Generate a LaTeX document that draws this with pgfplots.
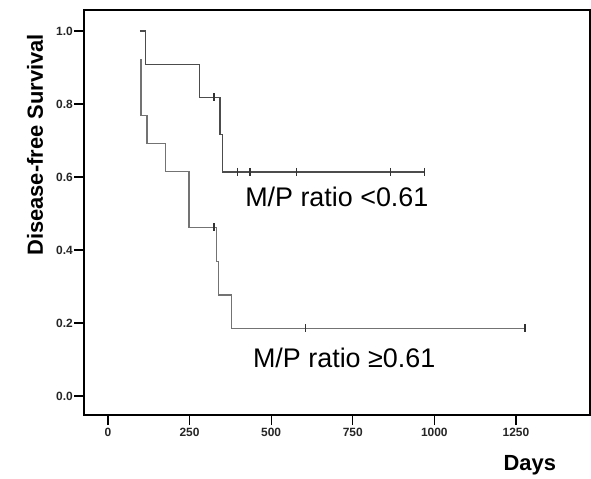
\documentclass[border=0pt]{standalone}
\usepackage{fontspec}
\setmainfont{Liberation Sans}
\usepackage{pgfplots}
\pgfplotsset{compat=1.18}

\begin{document}
\begin{tikzpicture}
\useasboundingbox (0,0) rectangle (591bp,479bp);
\begin{axis}[
    at={(84bp,64bp)}, anchor=south west,
    width=506bp, height=405bp, scale only axis,
    xmin=-73.5, xmax=1477,
    ymin=-0.052, ymax=1.0575,
    xtick={0,250,500,750,1000,1250},
    ytick={0,0.2,0.4,0.6,0.8,1.0},
    xtick pos=bottom, ytick pos=left,
    tick align=outside,
    major tick length=10bp,
    tick style={black, line width=1.2bp},
    axis line style={black, line width=1.6bp},
    /pgf/number format/assume math mode=true,
    /pgf/number format/set thousands separator={},
    yticklabel style={/pgf/number format/fixed, /pgf/number format/fixed zerofill, /pgf/number format/precision=1, inner xsep=1bp, font=\fontsize{12}{13}\selectfont\bfseries, text=black!85},
    xticklabel style={inner ysep=3bp, font=\fontsize{12}{13}\selectfont\bfseries, text=black!85},
    xlabel={Days},
    ylabel={Disease-free Survival},
    every axis x label/.style={at={(axis description cs:0.881,-0.123)}, anchor=center, font=\fontsize{22}{24}\selectfont\bfseries},
    every axis y label/.style={at={([xshift=-49bp]axis description cs:0,0.667)}, rotate=90, anchor=center, font=\fontsize{22}{24}\selectfont\bfseries},
    clip=false,
]
% M/P ratio < 0.61
\addplot[const plot mark left, black!70, line width=1.3bp] coordinates {
    (98,1.0) (116,0.909) (280,0.818) (343,0.716) (350,0.614) (971,0.614)
};
\addplot[only marks, mark=|, mark size=4bp, black!80, mark options={line width=1.2bp}] coordinates {
    (325,0.818) (398,0.614) (435,0.614) (578,0.614) (865,0.614) (971,0.614)
};
% M/P ratio >= 0.61
\addplot[const plot mark left, black!55, line width=1.3bp] coordinates {
    (101,0.923) (101,0.769) (120,0.692) (177,0.615) (248,0.462)
    (333,0.369) (338,0.277) (379,0.185) (1278,0.185)
};
\addplot[only marks, mark=|, mark size=4bp, black!80, mark options={line width=1.2bp}] coordinates {
    (325,0.462) (604,0.185) (1278,0.185)
};
\node[anchor=base west, inner sep=0pt, font=\fontsize{27}{29}\selectfont] at (axis cs:420,0.518) {M/P ratio <0.61};
\node[anchor=base west, inner sep=0pt, font=\fontsize{27}{29}\selectfont] at (axis cs:444,0.079) {M/P ratio ≥0.61};
\end{axis}
\end{tikzpicture}
\end{document}
